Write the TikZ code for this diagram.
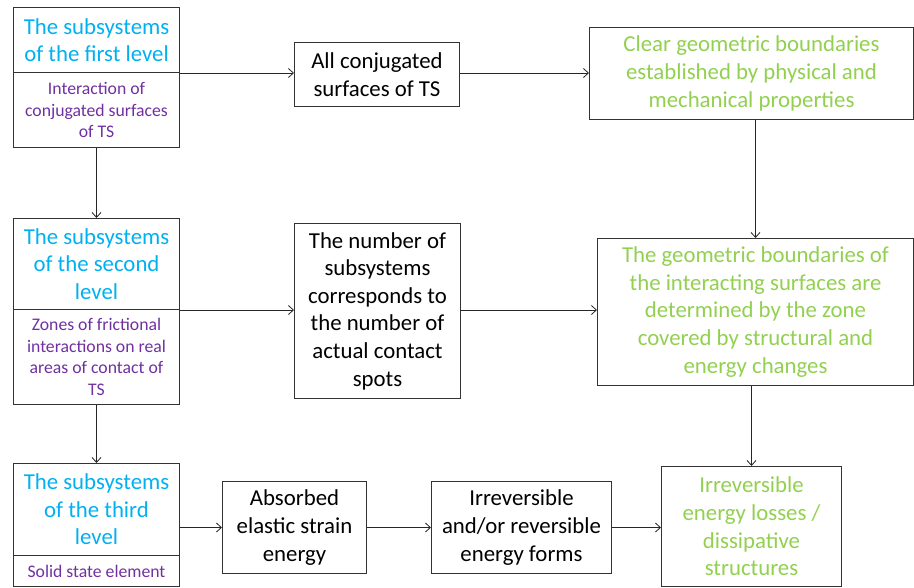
\documentclass[tikz,border=0pt]{standalone}
\usepackage{fontspec}
\setmainfont{Carlito}
\usetikzlibrary{arrows.meta}
\definecolor{cyanT}{RGB}{0,176,240}
\definecolor{purpT}{RGB}{112,48,160}
\definecolor{greenT}{RGB}{146,208,80}
\tikzset{
  box/.style={draw=black!80, line width=1pt, inner sep=0pt, anchor=north west, align=center},
  big/.style={font=\fontsize{22.8}{27.6}\selectfont},
  small/.style={font=\fontsize{17.7}{21.5}\selectfont},
  lvl/.style={box, big, text=cyanT},
  sub/.style={box, small, text=purpT},
  plain/.style={box, big, text=black},
  grn/.style={box, big, text=greenT},
  arr/.style={draw=black!85, line width=0.8pt, -{Straight Barb[length=5pt,width=9pt]}}
}
\begin{document}
\begin{tikzpicture}[x=1pt,y=-1pt]
\useasboundingbox (0,0) rectangle (914,587);
% level 1
\node[lvl, minimum width=166pt, minimum height=65pt] (l1t) at (13,7) {The subsystems\\of the first level};
\node[sub, minimum width=166pt, minimum height=75pt] (l1b) at (13,72) {Interaction of\\conjugated surfaces\\of TS};
% level 2
\node[lvl, minimum width=166pt, minimum height=91pt] (l2t) at (13,218) {The subsystems\\of the second\\level};
\node[sub, minimum width=166pt, minimum height=95pt] (l2b) at (13,309) {Zones of frictional\\interactions on real\\areas of contact of\\TS};
% level 3
\node[lvl, minimum width=166pt, minimum height=92pt] (l3t) at (13,463) {The subsystems\\of the third\\level};
\node[sub, minimum width=166pt, minimum height=31pt] (l3b) at (13,555) {Solid state element};
% middle
\node[plain, minimum width=165pt, minimum height=64pt] (all) at (294,42) {All conjugated\\surfaces of TS};
\node[plain, minimum width=166pt, minimum height=175pt] (num) at (294,223) {The number of\\subsystems\\corresponds to\\the number of\\actual contact\\spots};
\node[plain, minimum width=144pt, minimum height=92pt] (abs) at (222,481) {Absorbed\\elastic strain\\energy};
\node[plain, minimum width=180pt, minimum height=92pt] (irr) at (431,481) {Irreversible\\and/or reversible\\energy forms};
% right
\node[grn, minimum width=324pt, minimum height=92pt] (clr) at (589,27) {Clear geometric boundaries\\established by physical and\\mechanical properties};
\node[grn, minimum width=316pt, minimum height=147pt] (geo) at (597,238) {The geometric boundaries of\\the interacting surfaces are\\determined by the zone\\covered by structural and\\energy changes};
\node[grn, minimum width=180pt, minimum height=120pt] (los) at (661,466) {Irreversible\\energy losses /\\dissipative\\structures};
% arrows
\draw[arr] (l1t.south east) -- (l1t.south east -| all.west);
\draw[arr] (all.east |- l1t.south east) -- (clr.west |- l1t.south east);
\draw[arr] (l1b.south) -- (l2t.north);
\draw[arr] (geo.north |- clr.south) -- (geo.north);
\draw[arr] (l2t.south east) -- (l2t.south east -| num.west);
\draw[arr] (num.east |- l2t.south east) -- (geo.west |- l2t.south east);
\draw[arr] (l2b.south) -- (l3t.north);
\draw[arr] (los.north |- geo.south) -- (los.north);
\draw[arr] (abs.west -| l3t.east) -- (abs.west);
\draw[arr] (abs.east) -- (irr.west);
\draw[arr] (irr.east) -- (irr.east -| los.west);
\end{tikzpicture}
\end{document}
